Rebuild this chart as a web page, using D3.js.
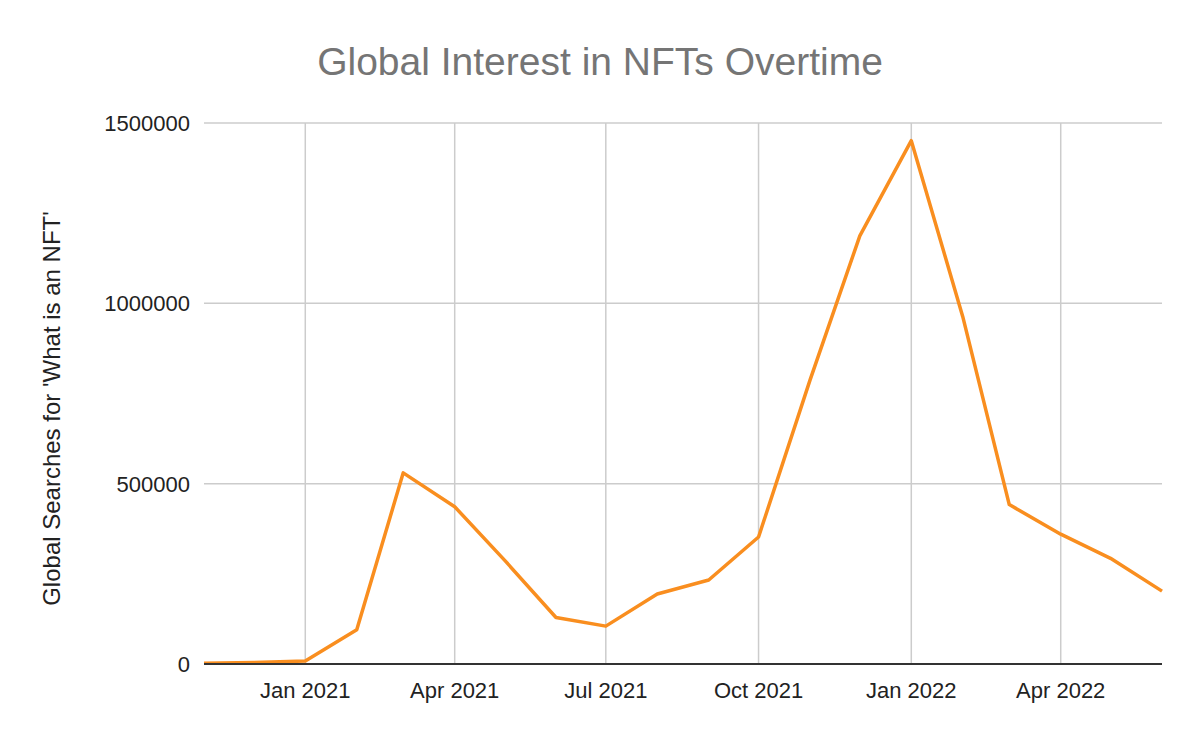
<!DOCTYPE html>
<html>
<head>
<meta charset="utf-8">
<script src="https://cdn.jsdelivr.net/npm/d3@7"></script>
<style>
  html, body { margin: 0; padding: 0; background: #fff; }
  svg { display: block; font-family: "Liberation Sans", Arial, sans-serif; }
</style>
</head>
<body>
<svg id="chart" width="1200" height="742"></svg>
<script>
// Data
const months = ["2020-11","2020-12","2021-01","2021-02","2021-03","2021-04","2021-05","2021-06","2021-07","2021-08","2021-09","2021-10","2021-11","2021-12","2022-01","2022-02","2022-03","2022-04","2022-05","2022-06"];
const searches = [2000, 4000, 8000, 95000, 530000, 436000, 288000, 129000, 105000, 194000, 233000, 352000, 787000, 1187000, 1451000, 963000, 442000, 360000, 293000, 202000];
const yTicks = [0, 500000, 1000000, 1500000];
const xTickDates = ["2021-01","2021-04","2021-07","2021-10","2022-01","2022-04"];
const xTickLabels = ["Jan 2021","Apr 2021","Jul 2021","Oct 2021","Jan 2022","Apr 2022"];
const titleText = "Global Interest in NFTs Overtime";
const yTitleText = "Global Searches for 'What is an NFT'";

(function () {
const parse = d3.timeParse("%Y-%m");
const data = months.map((m, i) => ({ date: parse(m), value: searches[i] }));

const svg = d3.select("#chart");
const pLeft = 204, pRight = 1162, pTop = 123, pBottom = 664;

const x = d3.scaleTime().domain([parse("2020-11"), parse("2022-06")]).range([pLeft, pRight]);
const y = d3.scaleLinear().domain([0, 1500000]).range([pBottom, pTop]);

// Title
svg.append("text")
  .attr("x", 600).attr("y", 75)
  .attr("text-anchor", "middle")
  .attr("font-size", 39)
  .attr("fill", "#757575")
  .text(titleText);

// Horizontal gridlines
svg.append("g").selectAll("line")
  .data(yTicks.filter(d => d > 0))
  .join("line")
  .attr("x1", pLeft).attr("x2", pRight)
  .attr("y1", d => y(d)).attr("y2", d => y(d))
  .attr("stroke", "#cccccc").attr("stroke-width", 1.5);

// Vertical gridlines
svg.append("g").selectAll("line")
  .data(xTickDates.map(parse))
  .join("line")
  .attr("x1", d => x(d)).attr("x2", d => x(d))
  .attr("y1", pTop).attr("y2", pBottom)
  .attr("stroke", "#cccccc").attr("stroke-width", 1.5);

// Y tick labels
svg.append("g").selectAll("text")
  .data(yTicks)
  .join("text")
  .attr("x", 190)
  .attr("y", d => y(d))
  .attr("dy", "0.36em")
  .attr("text-anchor", "end")
  .attr("font-size", 22)
  .attr("fill", "#222")
  .text(d => d3.format("d")(d));

// X tick labels
svg.append("g").selectAll("text")
  .data(xTickDates.map(parse))
  .join("text")
  .attr("x", d => x(d))
  .attr("y", 698)
  .attr("text-anchor", "middle")
  .attr("font-size", 22)
  .attr("fill", "#222")
  .text((d, i) => xTickLabels[i]);

// Y axis title
svg.append("text")
  .attr("transform", "translate(59.5," + ((pTop + pBottom) / 2 + 15) + ") rotate(-90)")
  .attr("text-anchor", "middle")
  .attr("font-size", 24)
  .attr("fill", "#222")
  .text(yTitleText);

// Line
const line = d3.line().x(d => x(d.date)).y(d => y(d.value));
svg.append("path")
  .datum(data)
  .attr("d", line)
  .attr("fill", "none")
  .attr("stroke", "#f98e1f")
  .attr("stroke-width", 3.5)
  .attr("stroke-linejoin", "round");

// Baseline axis
svg.append("line")
  .attr("x1", pLeft).attr("x2", pRight)
  .attr("y1", pBottom).attr("y2", pBottom)
  .attr("stroke", "#333").attr("stroke-width", 2);
})();
</script>
</body>
</html>
